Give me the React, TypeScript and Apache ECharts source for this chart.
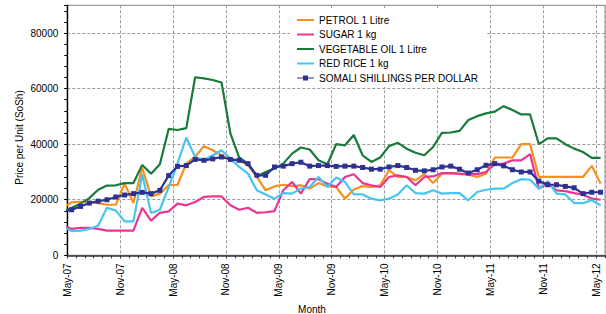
import React, { useEffect, useRef } from "react";
import * as echarts from "echarts";

// Tick labels along the month axis (every 6 months)
const xTickLabels = ["May-07", "Nov-07", "May-08", "Nov-08", "May-09", "Nov-09", "May-10", "Nov-10", "May-11", "Nov-11", "May-12"];

// Monthly observations Apr-07 .. May-12 (62 months). Points are plotted mid-month;
// the Apr-07 point lies just left of the axis and is clipped.
const firstYear = 2007;
const firstMonth = 3; // April (0-based)
const monthNames = ["Jan", "Feb", "Mar", "Apr", "May", "Jun", "Jul", "Aug", "Sep", "Oct", "Nov", "Dec"];

const petrol = [17200, 19100, 19200, 19200, 18800, 18200, 18200, 25800, 18800, 31500, 21200, 22200, 25300, 25300, 33000, 35400, 39300, 37800, 36000, 34500, 34200, 32400, 28200, 23400, 24800, 25400, 24900, 25200, 24000, 26000, 24800, 24600, 20400, 23700, 24900, 24600, 25200, 30600, 28200, 28200, 27000, 29200, 26000, 29400, 29600, 29200, 29000, 28200, 29400, 35200, 35200, 35200, 40000, 40000, 28200, 28200, 28200, 28200, 28200, 28200, 32200, 25800];
const sugar = [10700, 9500, 9900, 9900, 9500, 8900, 8900, 8900, 8900, 17100, 12500, 15300, 15800, 18600, 18000, 19200, 21000, 21200, 21200, 18000, 16400, 17100, 15300, 15500, 15900, 23400, 26400, 22200, 27400, 27400, 25800, 24600, 28200, 29200, 26000, 25200, 24600, 28200, 28800, 28200, 25200, 28200, 28400, 29600, 29600, 29400, 29300, 29200, 30000, 32800, 33000, 34200, 34200, 36400, 24000, 25800, 23400, 23100, 22400, 21900, 20400, 20000];
const vegOil = [15800, 17100, 18600, 20600, 23600, 25100, 25200, 26000, 26000, 32500, 29400, 32800, 45500, 45100, 45800, 64100, 63700, 63100, 62200, 43900, 35200, 33000, 28400, 30000, 31200, 33000, 36600, 38800, 38100, 34200, 32800, 40000, 39600, 43300, 36000, 33600, 35200, 39300, 40500, 38400, 36900, 36000, 39000, 44100, 44200, 44800, 48700, 50100, 51100, 51700, 53700, 52300, 50700, 50700, 40000, 42100, 42100, 40000, 38400, 37200, 35100, 35100];
const redRice = [10300, 8700, 8900, 9500, 10700, 17100, 16100, 12200, 12200, 29200, 15200, 16400, 24500, 33000, 42400, 35400, 34200, 36000, 37800, 34800, 31800, 29400, 23400, 21900, 20400, 22400, 22200, 24000, 24600, 28200, 24600, 28000, 26400, 21900, 21900, 20400, 19800, 20400, 21900, 25200, 22400, 22200, 23400, 22200, 22400, 22400, 19800, 22800, 23600, 24000, 24000, 26000, 27400, 27200, 24000, 26700, 22200, 21900, 18800, 18800, 19800, 18000];
const shillings = [15600, 16400, 17600, 18800, 19500, 20000, 21000, 21700, 22200, 22650, 22200, 23400, 28700, 32000, 32300, 34500, 34200, 34700, 35400, 34500, 34200, 33000, 28800, 28800, 31800, 32100, 33000, 33500, 32100, 32300, 32300, 32000, 32100, 32100, 31600, 31000, 31000, 31800, 32300, 31600, 30600, 30400, 30800, 31800, 32100, 31000, 29600, 30800, 32400, 33000, 32200, 30800, 30000, 30000, 26700, 25400, 25400, 24800, 24300, 22200, 22700, 22700];

const months: string[] = petrol.map((_, k) => {
  const m = firstMonth + k;
  const y = firstYear + Math.floor(m / 12);
  return monthNames[m % 12] + "-" + String(y).slice(2);
});

const seriesDefs = [
  { name: "PETROL 1 Litre", values: petrol, color: "#F7901E", marker: false },
  { name: "SUGAR 1 kg", values: sugar, color: "#EC3493", marker: false },
  { name: "VEGETABLE OIL 1 Litre", values: vegOil, color: "#1A7A3C", marker: false },
  { name: "RED RICE 1 kg", values: redRice, color: "#45C6F2", marker: false },
  { name: "SOMALI SHILLINGS PER DOLLAR", values: shillings, color: "#2E3192", marker: true },
];

const ICON_LINE = "path://M0,4 L17,4 L17,6 L0,6 Z";
const ICON_LINE_SQUARE = "path://M0,4.4 L17,4.4 L17,5.6 L0,5.6 Z M6,2.5 L11,2.5 L11,7.5 L6,7.5 Z";

const FONT = "'Liberation Sans', Arial, Helvetica, sans-serif";

export default function App() {
  const ref = useRef<HTMLDivElement>(null);
  useEffect(() => {
    if (!ref.current) return;
    const chart = echarts.init(ref.current, undefined, { renderer: "svg" });
    const option: any = {
      animation: false,
      textStyle: { fontFamily: FONT },
      grid: {
        left: 67.3,
        right: 1,
        top: 5.3,
        bottom: 58.7,
        show: true,
        borderColor: "#a0a0a0",
        borderWidth: 1.2,
        backgroundColor: "transparent",
      },
      legend: {
        orient: "vertical",
        left: 290,
        top: 10,
        padding: [5, 8, 4, 7],
        backgroundColor: "#ffffff",
        itemWidth: 17,
        itemHeight: 10,
        itemGap: 4.5,
        symbolKeepAspect: true,
        textStyle: { fontSize: 10, color: "#000", fontFamily: FONT },
        data: seriesDefs.map((s) => ({
          name: s.name,
          icon: s.marker ? ICON_LINE_SQUARE : ICON_LINE,
          itemStyle: { color: s.color, borderWidth: 0 },
        })),
      },
      xAxis: [
        {
          type: "value",
          min: 0,
          max: 61,
          interval: 6,
          position: "bottom",
          axisLine: { show: true, onZero: false, lineStyle: { color: "#333", width: 1.6 } },
          axisTick: { show: true, length: 3, lineStyle: { color: "#333", width: 1 } },
          axisLabel: {
            rotate: 90,
            fontSize: 10,
            color: "#000",
            margin: 8,
            padding: [9, 0, 0, 0],
            fontFamily: FONT,
            showMaxLabel: false,
            formatter: (v: number) => (v % 6 === 0 && xTickLabels[v / 6]) || "",
          },
          splitLine: { show: true, lineStyle: { color: "#9a9a9a", type: [3, 2], width: 1 } },
        },
        {
          type: "value",
          min: 0,
          max: 61,
          interval: 1,
          position: "bottom",
          axisLine: { show: false },
          axisTick: { show: true, length: 3, lineStyle: { color: "#333", width: 1 } },
          axisLabel: { show: false },
          splitLine: { show: false },
        },
      ],
      yAxis: [
        {
          type: "value",
          min: 0,
          max: 90000,
          interval: 20000,
          position: "left",
          axisLine: { show: true, onZero: false, lineStyle: { color: "#000", width: 1.4 } },
          axisTick: { show: true, length: 3, lineStyle: { color: "#000", width: 1 } },
          axisLabel: {
            fontSize: 10,
            color: "#000",
            margin: 9,
            fontFamily: FONT,
            formatter: (v: number) => (v % 20000 === 0 ? String(v) : ""),
          },
          splitLine: { show: true, lineStyle: { color: "#9a9a9a", type: [3, 2], width: 1 } },
        },
        {
          type: "value",
          min: 0,
          max: 90000,
          interval: 4000,
          position: "left",
          axisLine: { show: false },
          axisTick: { show: true, length: 3, lineStyle: { color: "#000", width: 1 } },
          axisLabel: { show: false },
          splitLine: { show: false },
        },
      ],
      series: seriesDefs.map((s) => ({
        name: s.name,
        type: "line",
        xAxisIndex: 0,
        yAxisIndex: 0,
        clip: true,
        data: s.values.map((v, k) => [k - 0.5, v, months[k]]),
        symbol: s.marker ? "rect" : "none",
        symbolSize: 5,
        showSymbol: s.marker,
        itemStyle: { color: s.color },
        lineStyle: { color: s.color, width: 2.2 },
      })),
      graphic: [
        {
          type: "text",
          x: 312,
          y: 309,
          style: { text: "Month", fontSize: 10, fill: "#000", font: "10px " + FONT, textAlign: "center", textVerticalAlign: "middle" },
        },
        {
          type: "text",
          x: 19,
          y: 137.5,
          rotation: Math.PI / 2,
          style: { text: "Price per Unit (SoSh)", fontSize: 10, fill: "#000", font: "10px " + FONT, textAlign: "center", textVerticalAlign: "middle" },
        },
      ],
    };
    chart.setOption(option);
    return () => chart.dispose();
  }, []);
  return <div ref={ref} style={{ position: "absolute", left: 0, top: 0, width: 606, height: 314 }} />;
}
